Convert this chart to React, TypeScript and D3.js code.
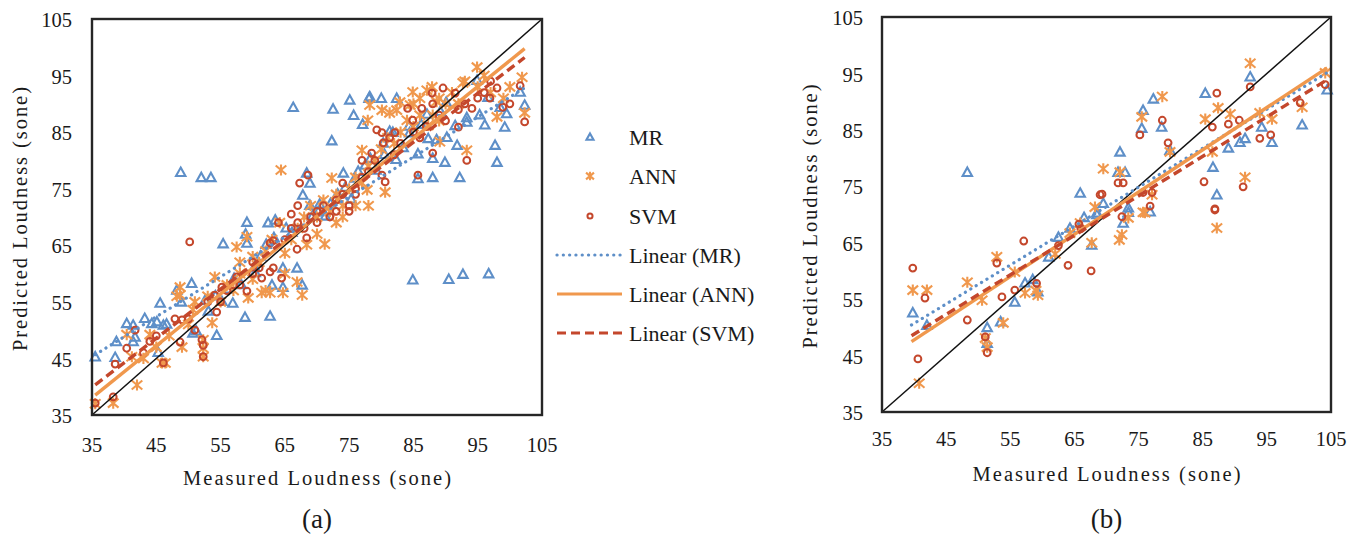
import React from "react";
import * as d3 from "d3";

type P = [number, number];

const seriesNames = ["MR", "ANN", "SVM"];
const trendNames = ["Linear (MR)", "Linear (ANN)", "Linear (SVM)"];
const tickValues = [35, 45, 55, 65, 75, 85, 95, 105];

// Panel (a)
const mrA: P[] = [
  [35.5,45.3],[38.6,45.2],[38.8,48],[40.4,51.2],[41.4,50.9],[41.7,48.8],[41.4,48],[44.3,51.2],[45.6,54.8],[46.1,50.9],
  [46.6,51.1],[45.3,46.1],[48.2,57.1],[48.9,55],[50.5,58.3],[50.7,49.5],[51.2,49.9],[54.4,49.1],[52.6,55.3],[56.9,54.8],
  [58.8,52.3],[62.7,52.5],[55.4,65.3],[59.1,69.1],[59.1,65.4],[58.9,67],[62.4,69],[63.5,69.5],[64.7,61],[66.9,61],
  [67.7,58],[64.7,57.6],[63,58],[48.8,77.9],[52,77],[53.5,77],[66.3,89.4],[84.9,58.9],[90.5,59],[92.7,59.9],
  [96.7,60],[72.5,89.1],[75.1,90.7],[78.1,91],[82.4,91],[72.3,83.5],[75.7,88],[77.1,86.4],[68.4,77.8],[68.9,76],
  [74.1,77.8],[75.9,76.9],[80.3,83.1],[81.3,85.2],[84.4,84.9],[85.7,81.2],[87.3,83.9],[90.2,84.1],[91.5,86.2],[93.3,86.8],
  [93.3,87.6],[94.9,94.2],[96.6,91.2],[98.5,89.4],[99.2,85.9],[101.6,92.1],[102.3,89.8],[97.7,82.7],[98,79.7],[91.8,82.7],
  [92.2,77],[89.9,79.7],[88,77],[85.7,76.8],[88,80.4],[88.6,83.7],[78.2,91.3],[80,91],[81.8,85],
  [67.8,73.9],[68.9,72.1],[70.2,71],[71.3,70.2],[72.1,72.4],[73.2,74.1],[74.4,75.3],[75.3,73.2],[76.4,78.1],[77.5,79.2],
  [78.3,80.4],[79.2,78.3],[80.5,81.1],[82.3,80.2],[83.4,82.3],[84.3,86.1],[86.2,86.4],[87.1,88.2],[89.2,88.7],[90.1,90.3],
  [61.2,63.1],[62.1,65.2],[63.3,66.4],[65.2,68.1],[66.1,67.3],[69.3,70.2],[70.4,72.3],[57.1,59.2],[58.2,58.1],[60.3,61.2],
  [56.1,57.3],[54.2,56.1],[53.1,53.4],[55.2,55.1],[60.4,60.2],[45.1,51.5],[43.2,52.1],[95.3,88.1],[96.1,86.3],[99.5,88.3]
];
const annA: P[] = [
  [35.5,37],[38.3,37.1],[42,40.3],[41.2,45.3],[40.4,49.2],[44,49.2],[45.9,44.2],[46.4,44.2],[49,47],[48.7,57.6],
  [48.2,56],[48.7,56.2],[50.7,53.6],[52.3,45.3],[52.3,46.8],[52.3,48.3],[54.1,59.4],[53.7,51.3],[57.5,64.7],[59.1,66.5],
  [59.3,55.7],[61.4,56.6],[62.7,56.6],[64.7,56.6],[67.7,56.2],[66.9,58.5],[65,63.6],[68.4,65.1],[64.2,69],[94.9,96.5],
  [101.9,94.7],[102.3,88.4],[98,87.7],[93.3,81.8],[89.1,83.3],[80.6,74.4],[77.8,74.8],[77,81.8],[72.3,76.9],[78.2,89.8],
  [80.1,88.9],[81.3,88.4],[82.4,88.9],[84.9,92.1],[87.9,93],[92.7,93.7],[88.6,90.4],[87.3,86.2],[84.5,89.8],[87.1,92.4],
  [82.9,90.3],[77.9,87.1],[84,87.1],[64.4,78.3],[71.2,65.2],
  [55,55],[56,58],[57,57],[58,60],[60,59],[61,62],[62,64],[63,66],[66,66],[67,68],
  [68,70],[69,72],[70,70],[71,73],[72,71],[73,74],[74,72],[75,75],[76,77],[77,76],
  [78,79],[79,80],[80,82],[81,84],[82,83],[83,85],[85,86],[86,88],[88,88],[89,91],
  [90,90],[91,92],[92,90],[93,94],[95,93],[96,95],[97,92],[99,91],[100,93],[43,45],
  [45,47],[47,49],[50,51],[51,55],[53,56],[58,62],[60,63],[70,67],[73,69],[74,70],
  [76,72],[78,72],[62,57],[65,60],[85,90],[86,91],[89,87]
];
const svmA: P[] = [
  [50.2,65.6],[35.5,37.1],[38.3,38.2],[38.6,44],[41.7,50],[40.4,46.8],[46.1,44.2],[47.9,52],[49,51.8],[48.7,47.9],
  [52.3,45.3],[52.3,47.3],[52.1,48.3],[54.1,56.2],[54.4,53.2],[55.2,57.6],[57.5,59.4],[59.1,56.9],[61.4,59.2],[62.7,60.3],
  [63.2,61],[64.5,59.2],[66.9,64.3],[68.4,66.3],[62.7,65.4],[63.2,65.8],[89.6,92.8],[91.5,91.9],[87.9,91.9],[98,92.8],
  [96.9,91],[101.6,93.2],[102.3,86.8],[98.9,89.4],[94.1,89.2],[92,85.9],[88,81.3],[93.3,80],[85.7,77.4],[84.1,89.2],
  [86.3,89.2],[84.9,87.1],[79.3,85.4],[80.1,84.9],[82.1,84.9],[81.3,84],[80.3,83.1],[78.5,81.3],[77,80],[80.1,77.4],
  [80.6,76.2],[68.6,77.4],[67.3,76],
  [56,57],[57,58],[58,58],[60,60],[61,61],[65,66],[66,68],[67,69],[69,70],[70,71],
  [71,72],[72,70],[73,73],[74,74],[75,72],[76,75],[77,77],[78,78],[79,80],[82,81],
  [83,83],[85,85],[86,84],[87,86],[89,88],[90,87],[92,89],[93,90],[95,91],[96,92],
  [97,94],[100,90],[44,48],[43,46],[45,49],[50,52],[51,50],[53,55],[55,55],[66,70.5],
  [67,72],[70,69],[68,68],[73,71],[74,76],[75,71],[76,74],[64,69],[60,62],[88,90]
];
const slopeA = [0.706, 0.917, 0.866];
const interceptA = [20.6, 5.95, 9.6];
const rangeA = [35.5, 102.3];

// Panel (b)
const mrB: P[] = [
  [48.3,77.5],[65.9,73.8],[69.5,72],[68.5,70.3],[39.8,52.6],[42,50.4],[51.4,50],[51.4,47.2],[57.3,57.9],[55.7,54.5],
  [59.3,56.3],[64.3,67.6],[67.7,64.6],[68.5,70],[92.4,94.4],[85.4,91.5],[77.3,90.5],[75.7,88.5],[75.5,85.3],[78.6,85.5],
  [72.1,81.1],[71.8,77.5],[72.9,77.5],[79.9,81.4],[86.6,78.4],[87.2,73.5],[89,81.8],[90.8,82.8],[91.6,83.5],[94.2,85.5],
  [95.8,82.8],[100.5,85.9],[104.4,92.1],[73.4,71.2],[76.8,70.5],[72.6,68.5],[73.4,70.4],[62.5,66],[66.5,69.5],[53.5,51],
  [58.5,58.5],[61,62.5]
];
const annB: P[] = [
  [69.5,78.1],[68.2,71.3],[39.8,56.6],[42,56.6],[48.3,58],[52.9,62.5],[50.6,54.8],[51.4,46.5],[53.9,50.8],[55.7,59.8],
  [57.3,56.1],[59.3,55.7],[40.8,40.1],[51.1,48.1],[64.3,66.7],[67.7,65],[65.9,68.5],[92.4,96.8],[78.7,90.9],[75.5,87.3],
  [87.4,88.9],[85.4,86.9],[89.3,87.8],[79.9,81.1],[86.5,81.1],[95.8,86.9],[100.5,89],[104.1,95.1],[72.1,77.5],[77.1,73.5],
  [75.7,70.4],[91.6,76.6],[93.9,88],[72.4,66.4],[87.2,67.6],[76,70.3],[73.4,69.4],[72,65.5],[62,63],[59,56.5]
];
const svmB: P[] = [
  [39.8,60.5],[41.7,55.2],[40.6,44.4],[48.3,51.3],[52.9,61.4],[53.7,55.4],[51.1,48.3],[51.4,45.5],[57.1,65.3],[55.7,56.6],
  [59.1,57.8],[64,61],[67.6,60],[65.7,68.3],[69.3,73.6],[87.2,91.5],[92.4,92.6],[78.7,86.7],[75.2,84.1],[79.6,82.7],
  [86.5,85.5],[89,86],[90.7,86.7],[93.9,83.5],[95.6,84.1],[100.2,89.8],[104.1,93],[85.2,75.8],[91.3,74.9],[86.9,71],
  [69,73.5],[71.8,75.6],[72.6,75.6],[75.7,73.9],[77.1,73.9],[76.8,71.5],[72.4,69.6],[86.9,70.8],[62.5,64.5],[66,67.5]
];
const slopeB = [0.69, 0.749, 0.70];
const interceptB = [23.1, 17.8, 20.8];
const rangeB = [39.6, 104.4];

const COLORS = ["#5E8FC8", "#F0984D", "#C4472C"];
const FONT = '"Liberation Serif", "Times New Roman", "DejaVu Serif", serif';
const txt = { fontFamily: FONT };

function Marker({ kind, x, y, s = 1 }: { kind: number; x: number; y: number; s?: number }) {
  const c = COLORS[kind];
  if (kind === 0) {
    const h = 4.7 * s;
    const p = `M${x},${y - h}L${x + h},${y + h * 0.8}L${x - h},${y + h * 0.8}Z`;
    return <path d={p} fill="none" stroke={c} strokeWidth={2.1} strokeLinejoin="miter" />;
  }
  if (kind === 1) {
    const r = 5.3 * s;
    const p = `M${x - r},${y - r * 0.85}L${x + r},${y + r * 0.85}M${x - r},${y + r * 0.85}L${x + r},${y - r * 0.85}M${x},${y - r * 1.05}L${x},${y + r * 1.05}`;
    return <path d={p} fill="none" stroke={c} strokeWidth={2.1} />;
  }
  return <circle cx={x} cy={y} r={3.4 * s} fill="none" stroke={c} strokeWidth={2} />;
}

type PanelProps = {
  x0: number; x1: number; y0: number; y1: number;
  data: P[][]; slopes: number[]; intercepts: number[]; range: number[];
  yLabelX: number; xLabelY: number; yTitleX: number; xTitleY: number; tagY: number; tag: string;
};

const dashes = ["0.1 6.2", "", "9 5"];

function Panel(p: PanelProps) {
  const x = d3.scaleLinear().domain([35, 105]).range([p.x0, p.x1]);
  const y = d3.scaleLinear().domain([35, 105]).range([p.y1, p.y0]);
  const cx = (p.x0 + p.x1) / 2;
  const cy = (p.y0 + p.y1) / 2;
  return (
    <g>
      {p.data.map((s, k) => (
        <g key={k}>
          {s.map((d, i) => <Marker key={i} kind={k} x={x(d[0])} y={y(d[1])} />)}
        </g>
      ))}
      <line x1={x(35)} y1={y(35)} x2={x(105)} y2={y(105)} stroke="#111" strokeWidth={1.5} />
      {p.slopes.map((m, k) => {
        const d = d3.line<number>().x((v) => x(v)).y((v) => y(m * v + p.intercepts[k]))(p.range) as string;
        return (
          <path key={k} d={d} fill="none" stroke={COLORS[k]} strokeWidth={k === 0 ? 3.2 : 3.4}
            strokeDasharray={dashes[k] || undefined} strokeLinecap={k === 0 ? "round" : "butt"} />
        );
      })}
      <rect x={p.x0} y={p.y0} width={p.x1 - p.x0} height={p.y1 - p.y0} fill="none" stroke="#262626" strokeWidth={2.4} />
      {tickValues.map((t) => (
        <text key={"y" + t} x={p.yLabelX} y={y(t) + 1} dy="0.35em" textAnchor="end" fontSize={20.5} style={txt} fill="#1a1a1a">{t}</text>
      ))}
      {tickValues.map((t) => (
        <text key={"x" + t} x={x(t)} y={p.xLabelY} textAnchor="middle" fontSize={20.5} style={txt} fill="#1a1a1a">{t}</text>
      ))}
      <text x={cx} y={p.xTitleY} textAnchor="middle" fontSize={20.5} style={txt} fill="#1a1a1a"
        textLength={268} lengthAdjust="spacing">Measured Loudness (sone)</text>
      <text transform={`translate(${p.yTitleX},${cy + 2}) rotate(-90)`} textAnchor="middle" fontSize={20.5} style={txt} fill="#1a1a1a"
        textLength={264} lengthAdjust="spacing">Predicted Loudness (sone)</text>
      <text x={cx} y={p.tagY} textAnchor="middle" fontSize={27} style={txt} fill="#1a1a1a">{p.tag}</text>
    </g>
  );
}

function Legend() {
  const rows = [137, 176, 216];
  const lrows = [255, 294, 333];
  return (
    <g>
      {seriesNames.map((n, k) => (
        <g key={n}>
          <Marker kind={k} x={590} y={rows[k]} s={0.75} />
          <text x={629} y={rows[k]} dy="0.35em" fontSize={22} style={txt} fill="#1a1a1a">{n}</text>
        </g>
      ))}
      {trendNames.map((n, k) => (
        <g key={n}>
          <line x1={557} x2={622} y1={lrows[k]} y2={lrows[k]} stroke={COLORS[k]} strokeWidth={3.2}
            strokeDasharray={dashes[k] || undefined} strokeLinecap={k === 0 ? "round" : "butt"} />
          <text x={629} y={lrows[k]} dy="0.35em" fontSize={22} style={txt} fill="#1a1a1a">{n}</text>
        </g>
      ))}
    </g>
  );
}

export default function App() {
  return (
    <svg width={1362} height={537} style={{ position: "absolute", left: 0, top: 0, background: "#fff" }}>
      <rect width={1362} height={537} fill="#fff" />
      <Panel x0={92} x1={542} y0={19} y1={415} data={[mrA, annA, svmA]} slopes={slopeA} intercepts={interceptA} range={rangeA}
        yLabelX={72} xLabelY={452} yTitleX={27} xTitleY={485} tagY={528} tag="(a)" />
      <Legend />
      <Panel x0={882} x1={1331} y0={17} y1={412} data={[mrB, annB, svmB]} slopes={slopeB} intercepts={interceptB} range={rangeB}
        yLabelX={863} xLabelY={446} yTitleX={817} xTitleY={481} tagY={528} tag="(b)" />
    </svg>
  );
}
